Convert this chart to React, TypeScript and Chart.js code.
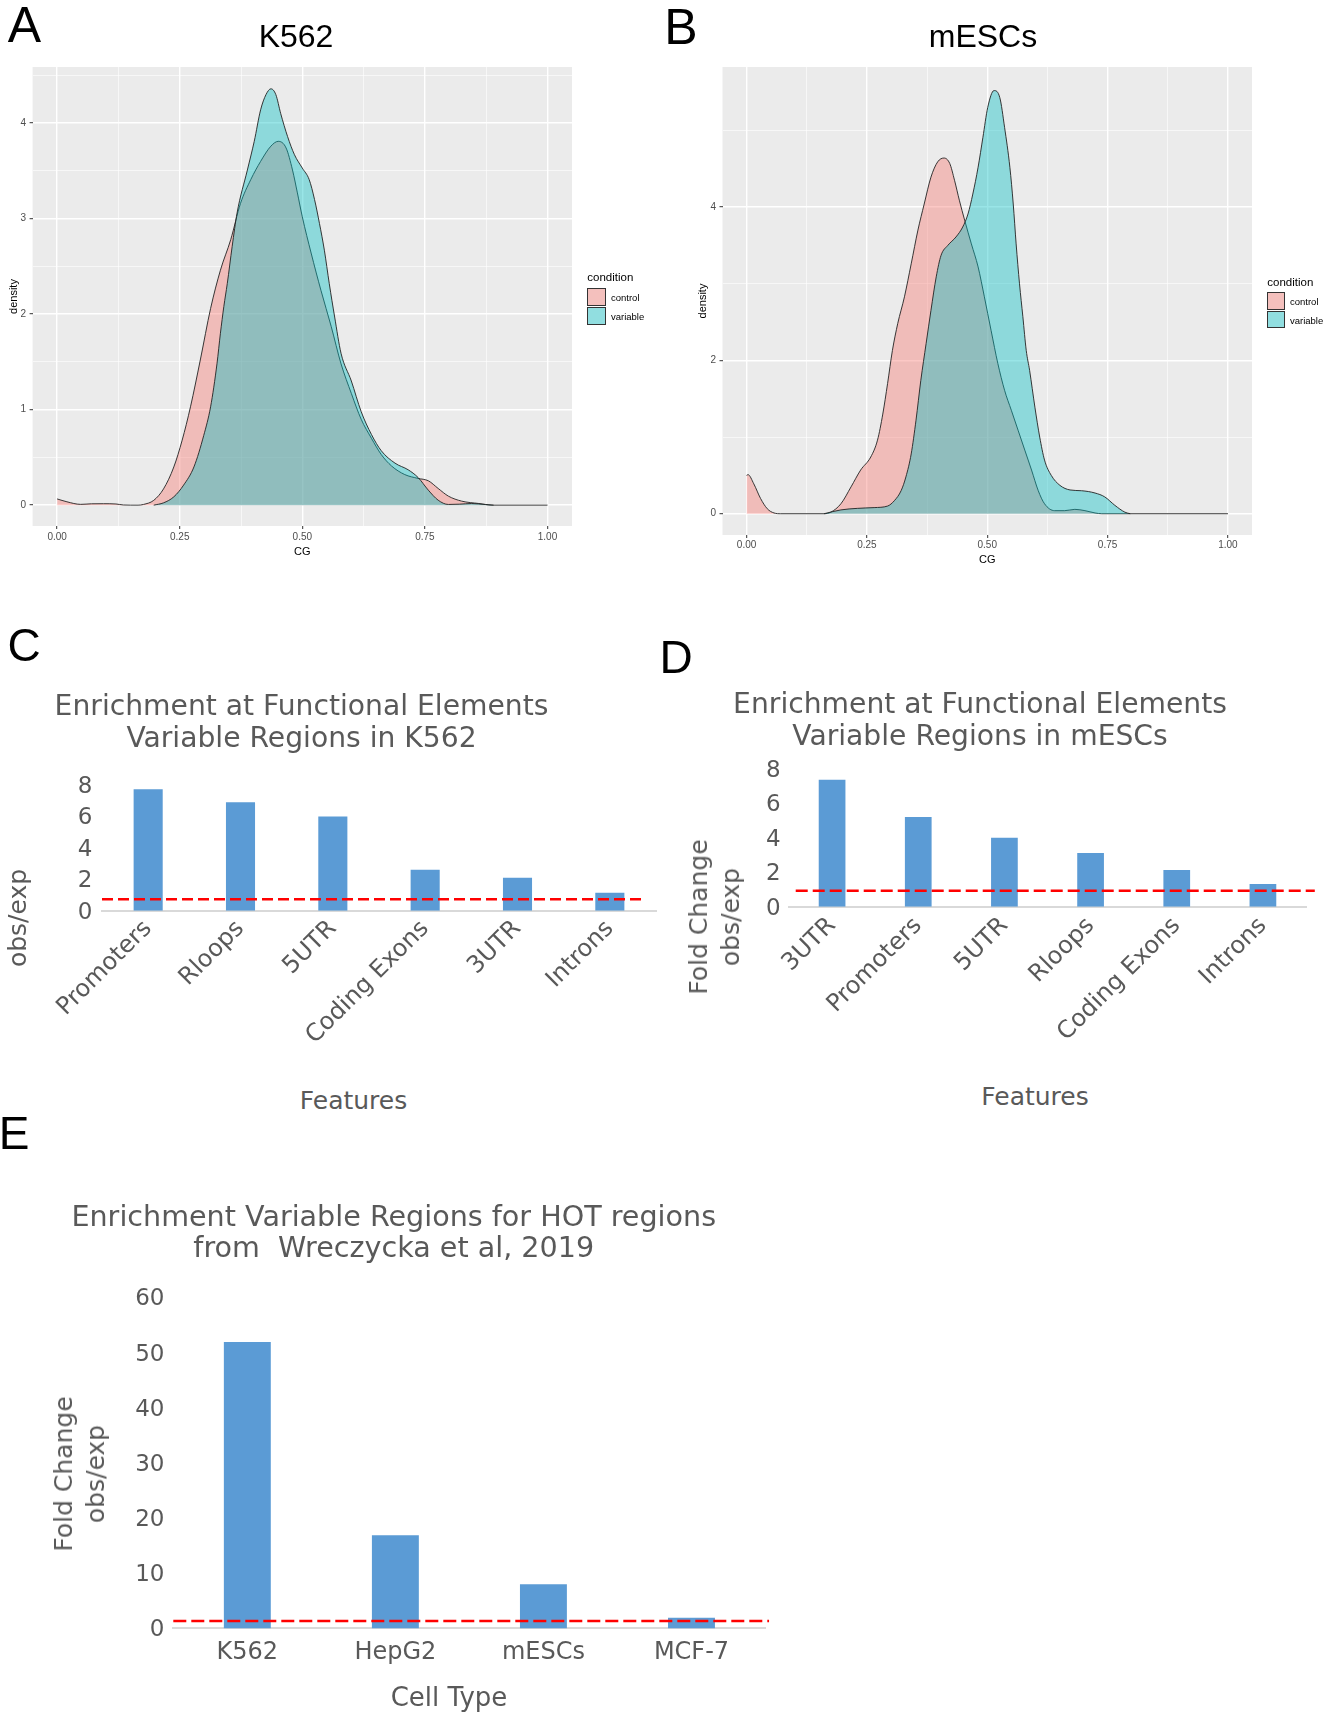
import React, { useEffect, useRef } from 'react';
import { Chart, registerables } from 'chart.js';
Chart.register(...registerables);

// ---------------- Panel A (K562) density data ----------------
const ctrlAx = [0, 0.02, 0.048, 0.07, 0.095, 0.12, 0.135, 0.165, 0.176, 0.197, 0.217, 0.238, 0.255, 0.272, 0.292, 0.313, 0.333, 0.354, 0.374, 0.395, 0.415, 0.436, 0.451, 0.467, 0.48, 0.49, 0.5, 0.518, 0.538, 0.559, 0.579, 0.6, 0.62, 0.641, 0.661, 0.682, 0.709, 0.736, 0.757, 0.777, 0.798, 0.825, 0.86, 0.887, 1.0];
const ctrlAy = [0.065, 0.035, 0.008, 0.014, 0.015, 0.012, 0.002, 0, 0.007, 0.05, 0.17, 0.4, 0.68, 1.03, 1.52, 2.06, 2.46, 2.78, 3.16, 3.41, 3.6, 3.76, 3.81, 3.74, 3.51, 3.27, 3.02, 2.64, 2.25, 1.87, 1.48, 1.17, 0.9, 0.7, 0.53, 0.41, 0.32, 0.28, 0.255, 0.175, 0.094, 0.042, 0.017, 0, 0];
const varAx = [0.197, 0.217, 0.238, 0.258, 0.279, 0.299, 0.313, 0.326, 0.333, 0.34, 0.347, 0.357, 0.367, 0.388, 0.402, 0.415, 0.426, 0.436, 0.446, 0.456, 0.47, 0.484, 0.5, 0.514, 0.525, 0.535, 0.545, 0.555, 0.566, 0.579, 0.6, 0.62, 0.641, 0.661, 0.689, 0.716, 0.736, 0.757, 0.777, 0.798, 0.82, 0.845, 0.873, 0.89];
const varAy = [0, 0.024, 0.087, 0.21, 0.4, 0.73, 1.03, 1.48, 1.8, 2.08, 2.32, 2.71, 3.06, 3.51, 3.81, 4.14, 4.3, 4.36, 4.3, 4.1, 3.86, 3.67, 3.53, 3.41, 3.2, 2.95, 2.67, 2.32, 1.97, 1.59, 1.3, 0.98, 0.74, 0.57, 0.44, 0.37, 0.29, 0.157, 0.052, 0.007, 0.01, 0.017, 0.007, 0];

// ---------------- Panel B (mESCs) density data ----------------
const ctrlBx = [0, 0.003, 0.015, 0.029, 0.043, 0.057, 0.071, 0.161, 0.175, 0.196, 0.217, 0.237, 0.258, 0.272, 0.283, 0.293, 0.303, 0.314, 0.328, 0.342, 0.356, 0.369, 0.383, 0.397, 0.41, 0.422, 0.432, 0.442, 0.453, 0.467, 0.481, 0.494, 0.508, 0.522, 0.536, 0.55, 0.564, 0.578, 0.592, 0.606, 0.619, 0.64, 0.661, 0.682, 0.703, 0.724, 0.738, 1.0];
const ctrlBy = [0.5, 0.51, 0.39, 0.2, 0.065, 0.01, 0, 0, 0.02, 0.13, 0.35, 0.57, 0.74, 0.96, 1.3, 1.7, 2.13, 2.48, 2.83, 3.26, 3.7, 4.04, 4.39, 4.59, 4.64, 4.57, 4.35, 4.09, 3.83, 3.52, 3.22, 2.83, 2.39, 1.96, 1.61, 1.35, 1.09, 0.83, 0.57, 0.3, 0.13, 0.04, 0.04, 0.057, 0.04, 0.01, 0, 0];
const varBx = [0.161, 0.196, 0.23, 0.265, 0.293, 0.307, 0.321, 0.331, 0.342, 0.352, 0.362, 0.373, 0.383, 0.394, 0.404, 0.418, 0.435, 0.449, 0.46, 0.47, 0.481, 0.491, 0.501, 0.514, 0.526, 0.536, 0.547, 0.554, 0.56, 0.567, 0.574, 0.581, 0.588, 0.599, 0.609, 0.619, 0.633, 0.651, 0.672, 0.696, 0.724, 0.744, 0.765, 0.786, 0.797];
const varBy = [0, 0.05, 0.07, 0.08, 0.1, 0.17, 0.3, 0.48, 0.78, 1.22, 1.74, 2.22, 2.65, 3.09, 3.37, 3.5, 3.61, 3.74, 3.91, 4.17, 4.52, 4.91, 5.3, 5.52, 5.43, 5.04, 4.52, 4.04, 3.52, 3.0, 2.57, 2.13, 1.87, 1.39, 1.0, 0.7, 0.5, 0.37, 0.31, 0.3, 0.27, 0.22, 0.11, 0.02, 0];

// density axes ticks
const densXMajor = [0, 0.25, 0.5, 0.75, 1];
const densXMinor = [0.125, 0.375, 0.625, 0.875];
const densXLabels = ['0.00', '0.25', '0.50', '0.75', '1.00'];
const densAYMajor = [0, 1, 2, 3, 4];
const densAYMinor = [0.5, 1.5, 2.5, 3.5, 4.5];
const densAYLabels = ['0', '1', '2', '3', '4'];
const densBYMajor = [0, 2, 4];
const densBYMinor = [1, 3, 5];
const densBYLabels = ['0', '2', '4'];
const conditions = ['control', 'variable'];

// ---------------- Panel C ----------------
const featuresC = ['Promoters', 'Rloops', '5UTR', 'Coding Exons', '3UTR', 'Introns'];
const valuesC = [7.73, 6.9, 6.0, 2.6, 2.1, 1.15];
const refC = 0.73;
// ---------------- Panel D ----------------
const featuresD = ['3UTR', 'Promoters', '5UTR', 'Rloops', 'Coding Exons', 'Introns'];
const valuesD = [7.37, 5.21, 4.0, 3.12, 2.13, 1.32];
const refD = 0.93;
// ---------------- Panel E ----------------
const cellTypesE = ['K562', 'HepG2', 'mESCs', 'MCF-7'];
const valuesE = [51.9, 16.9, 8.0, 1.94];
const refE = 1.35;

const FONT_R = "'Liberation Sans', Arial, sans-serif";
const FONT_D = "'DejaVu Sans', sans-serif";
const GRAY = '#595959';
const CTRL_FILL = 'rgba(248,118,109,0.4)';
const VAR_FILL = 'rgba(0,191,196,0.4)';

const panelBg = {
  id: 'panelBg',
  beforeDraw(chart: any, _a: any, opts: any) {
    if (!opts || !opts.color) return;
    const { ctx, chartArea: a } = chart;
    ctx.save();
    ctx.fillStyle = opts.color;
    ctx.fillRect(a.left, a.top, a.right - a.left, a.bottom - a.top);
    ctx.restore();
  },
};

// dashed reference line drawn through the y scale
const refLine = {
  id: 'refLine',
  afterDatasetsDraw(chart: any, _a: any, o: any) {
    if (!o || o.value === undefined) return;
    const { ctx, chartArea: a, scales } = chart;
    const py = scales.y.getPixelForValue(o.value);
    const w = a.right - a.left;
    ctx.save();
    ctx.strokeStyle = o.color;
    ctx.lineWidth = o.width;
    ctx.setLineDash(o.dash);
    ctx.beginPath();
    ctx.moveTo(a.left + o.start * w, py);
    ctx.lineTo(a.left + o.end * w, py);
    ctx.stroke();
    ctx.restore();
  },
};

function densityConfig(o: any) {
  const mjX = (c: any) => c.tick && densXMajor.includes(c.tick.value);
  const mjY = (c: any) => c.tick && o.yMajor.includes(c.tick.value);
  const ds = (label: string, xs: number[], ys: number[], fill: string, order: number) => ({
    label,
    data: xs.map((x, i) => ({ x, y: ys[i] })),
    backgroundColor: fill,
    borderColor: '#222222',
    borderWidth: 0.9,
    fill: 'origin',
    pointRadius: 0,
    cubicInterpolationMode: 'monotone',
    order,
  });
  return {
    type: 'line',
    data: {
      datasets: [
        ds(conditions[0], o.cx, o.cy, CTRL_FILL, 1),
        ds(conditions[1], o.vx, o.vy, VAR_FILL, 0),
      ],
    },
    options: {
      responsive: false,
      animation: false,
      events: [],
      layout: { padding: { top: o.padTop, right: o.padRight, bottom: 0, left: 0 } },
      plugins: { legend: { display: false }, tooltip: { enabled: false }, title: { display: false }, panelBg: { color: '#EBEBEB' } },
      scales: {
        x: {
          type: 'linear',
          min: -0.05,
          max: 1.05,
          afterBuildTicks: (s: any) => {
            s.ticks = [...densXMajor, ...densXMinor].sort((a, b) => a - b).map((v) => ({ value: v }));
          },
          afterFit: (s: any) => { s.height = o.xHeight; },
          grid: {
            color: '#FFFFFF',
            lineWidth: (c: any) => (mjX(c) ? 1.4 : 0.6),
            tickColor: (c: any) => (mjX(c) ? '#333333' : 'rgba(0,0,0,0)'),
            tickLength: 3,
            tickWidth: 1,
          },
          border: { display: false },
          ticks: {
            autoSkip: false,
            maxRotation: 0,
            padding: o.xTickPad,
            color: '#4D4D4D',
            font: { family: FONT_R, size: 10 },
            callback: (v: number) => { const i = densXMajor.indexOf(v); return i >= 0 ? densXLabels[i] : ''; },
          },
          title: { display: true, text: 'CG', color: '#000000', font: { family: FONT_R, size: 11 }, padding: { top: 0, bottom: o.xTitlePad } },
        },
        y: {
          type: 'linear',
          min: o.yMin,
          max: o.yMax,
          afterBuildTicks: (s: any) => {
            s.ticks = [...o.yMajor, ...o.yMinor].sort((a: number, b: number) => a - b).map((v: number) => ({ value: v }));
          },
          afterFit: (s: any) => { s.width = o.yWidth; },
          grid: {
            color: '#FFFFFF',
            lineWidth: (c: any) => (mjY(c) ? 1.4 : 0.6),
            tickColor: (c: any) => (mjY(c) ? '#333333' : 'rgba(0,0,0,0)'),
            tickLength: 3,
            tickWidth: 1,
          },
          border: { display: false },
          ticks: {
            autoSkip: false,
            padding: 3.5,
            color: '#4D4D4D',
            font: { family: FONT_R, size: 10 },
            callback: (v: number) => { const i = o.yMajor.indexOf(v); return i >= 0 ? o.yLabels[i] : ''; },
          },
          title: { display: true, text: 'density', color: '#000000', font: { family: FONT_R, size: 11 }, padding: { top: o.yTitlePad, bottom: 0 } },
        },
      },
    },
    plugins: [panelBg],
  };
}

function barConfig(o: any) {
  return {
    type: 'bar',
    data: {
      labels: o.labels,
      datasets: [
        {
          label: 'obs/exp',
          data: o.values,
          backgroundColor: '#5B9BD5',
          borderWidth: 0,
          barPercentage: o.barPct,
          categoryPercentage: 1,
          grouped: false,
        },
      ],
    },
    options: {
      responsive: false,
      animation: false,
      events: [],
      layout: { padding: { top: 0, left: 0, bottom: 0, right: o.padRight } },
      plugins: {
        legend: { display: false },
        tooltip: { enabled: false },
        title: {
          display: true,
          text: o.title,
          color: GRAY,
          font: { family: FONT_D, size: o.titleSize, weight: 'normal', lineHeight: o.titleLH },
          padding: o.titlePad,
        },
        refLine: { value: o.ref, start: o.refStart, end: o.refEnd, dash: o.dash, color: '#FF0000', width: 2.5 },
      },
      scales: {
        x: {
          type: 'category',
          grid: { display: false, drawTicks: false, tickLength: 0 },
          border: { display: true, color: '#D9D9D9', width: 2 },
          ticks: {
            autoSkip: false,
            minRotation: o.rot,
            maxRotation: o.rot,
            padding: o.xTickPad,
            color: GRAY,
            font: { family: FONT_D, size: 24 },
          },
          afterFit: (s: any) => { s.height = o.xHeight; },
        },
        y: {
          min: 0,
          max: o.yMax,
          grid: { display: false, drawTicks: false, tickLength: 0 },
          border: { display: false },
          ticks: { stepSize: o.yStep, padding: o.yTickPad, labelOffset: 2, color: GRAY, font: { family: FONT_D, size: 23 } },
          afterFit: (s: any) => { s.width = o.yWidth; },
        },
      },
    },
    plugins: [refLine],
  };
}

function ChartBox({ make, left, top, width, height }: any) {
  const ref = useRef<HTMLCanvasElement>(null);
  useEffect(() => {
    const chart = new Chart(ref.current as HTMLCanvasElement, make());
    return () => chart.destroy();
  }, []);
  return (
    <canvas ref={ref} width={width} height={height} style={{ position: 'absolute', left, top, width, height }} />
  );
}

function Txt({ x, y, text, size, family, color = '#000', rot = 0, lh }: any) {
  return (
    <div
      style={{
        position: 'absolute', left: x, top: y,
        transform: `translate(-50%, -50%) rotate(${rot}deg)`,
        fontFamily: family, fontSize: size, color, whiteSpace: 'pre',
        lineHeight: lh ? `${lh}px` : 'normal', textAlign: 'center',
      }}
    >{text}</div>
  );
}

function LeftTxt({ x, y, text, size, family, color = '#000' }: any) {
  return (
    <div style={{ position: 'absolute', left: x, top: y, transform: 'translateY(-50%)', fontFamily: family, fontSize: size, color, whiteSpace: 'pre', lineHeight: 'normal' }}>{text}</div>
  );
}

function Key({ x, y, w, h, color }: any) {
  return <div style={{ position: 'absolute', left: x, top: y, width: w, height: h, boxSizing: 'border-box', border: '1px solid #333', background: color }} />;
}

function Legend({ x, titleY, keyTops, w, h, labelX }: any) {
  const keyColors = ['rgb(244,192,189)', 'rgb(145,222,224)'];
  return (
    <>
      <LeftTxt x={x} y={titleY} text="condition" size={11.5} family={FONT_R} />
      {conditions.map((c, i) => (
        <React.Fragment key={c}>
          <Key x={x} y={keyTops[i]} w={w} h={h} color={keyColors[i]} />
          <LeftTxt x={labelX} y={keyTops[i] + h / 2} text={c} size={9.5} family={FONT_R} />
        </React.Fragment>
      ))}
    </>
  );
}

export default function App() {
  return (
    <div style={{ position: 'absolute', left: 0, top: 0, width: 1332, height: 1716, overflow: 'hidden', background: '#fff' }}>
      <ChartBox
        left={0} top={0} width={657} height={570}
        make={() => densityConfig({
          cx: ctrlAx, cy: ctrlAy, vx: varAx, vy: varAy,
          yMin: -0.2185, yMax: 4.5885, yMajor: densAYMajor, yMinor: densAYMinor, yLabels: densAYLabels,
          yWidth: 32.6, xHeight: 44, padTop: 67, padRight: 85, xTickPad: 2, xTitlePad: 11.8, yTitlePad: 7,
        })}
      />
      <ChartBox
        left={657} top={0} width={675} height={570}
        make={() => densityConfig({
          cx: ctrlBx, cy: ctrlBy, vx: varBx, vy: varBy,
          yMin: -0.2775, yMax: 5.8275, yMajor: densBYMajor, yMinor: densBYMinor, yLabels: densBYLabels,
          yWidth: 65.5, xHeight: 35, padTop: 67, padRight: 80, xTickPad: 1.5, xTitlePad: 3.4, yTitlePad: 39.4,
        })}
      />
      <ChartBox
        left={-53.5} top={640} width={716} height={440}
        make={() => barConfig({
          labels: featuresC, values: valuesC, ref: refC, refStart: 0, refEnd: 0.977, dash: [11, 5],
          barPct: 0.315, yMax: 8, yStep: 2, rot: 45, titleSize: 28.2,
          title: ['Enrichment at Functional Elements', 'Variable Regions in K562'], titleLH: '32px',
          titlePad: { top: 52, bottom: 29 }, yWidth: 155, xHeight: 169.3, padRight: 7, xTickPad: 4, yTickPad: 9.5,
        })}
      />
      <ChartBox
        left={654} top={640} width={678} height={440}
        make={() => barConfig({
          labels: featuresD, values: valuesD, ref: refD, refStart: 0.013, refEnd: 1.017, dash: [12, 5],
          barPct: 0.31, yMax: 8, yStep: 2, rot: 45, titleSize: 28.2,
          title: ['Enrichment at Functional Elements', 'Variable Regions in mESCs'], titleLH: '32px',
          titlePad: { top: 50, bottom: 15 }, yWidth: 135, xHeight: 173.3, padRight: 26, xTickPad: 5, yTickPad: 8.4,
        })}
      />
      <ChartBox
        left={21.5} top={1170} width={765.5} height={546}
        make={() => barConfig({
          labels: cellTypesE, values: valuesE, ref: refE, refStart: 0, refEnd: 1.006, dash: [13, 5],
          barPct: 0.317, yMax: 60, yStep: 10, rot: 0, titleSize: 28.6,
          title: ['Enrichment Variable Regions for HOT regions', 'from  Wreczycka et al, 2019'], titleLH: '31px',
          titlePad: { top: 33, bottom: 32.4 }, yWidth: 151.3, xHeight: 87.6, padRight: 21.5, xTickPad: 10, yTickPad: 8.8,
        })}
      />

      {/* panel titles (ggplot) */}
      <Txt x={296} y={35.5} text="K562" size={32} family={FONT_R} />
      <Txt x={983} y={35.5} text="mESCs" size={32} family={FONT_R} />

      {/* legends */}
      <Legend x={587.3} titleY={276.7} keyTops={[288.3, 307.3]} w={18.4} h={17.4} labelX={611} />
      <Legend x={1267.3} titleY={281.5} keyTops={[292.3, 310.7]} w={17.4} h={17.6} labelX={1290} />

      {/* axis titles of bar charts */}
      <Txt x={2} y={918} text={'Fold Change\nobs/exp'} size={25} family={FONT_D} color={GRAY} rot={-90} lh={31} />
      <Txt x={353.5} y={1100} text="Features" size={25} family={FONT_D} color={GRAY} />
      <Txt x={715} y={916.5} text={'Fold Change\nobs/exp'} size={25} family={FONT_D} color={GRAY} rot={-90} lh={32} />
      <Txt x={1035} y={1096} text="Features" size={25} family={FONT_D} color={GRAY} />
      <Txt x={80} y={1474} text={'Fold Change\nobs/exp'} size={25} family={FONT_D} color={GRAY} rot={-90} lh={32} />
      <Txt x={449} y={1697} text="Cell Type" size={26} family={FONT_D} color={GRAY} />

      {/* panel letters */}
      <Txt x={24.5} y={25} text="A" size={50} family={FONT_R} />
      <Txt x={681} y={26.5} text="B" size={50} family={FONT_R} />
      <Txt x={24} y={644.5} text="C" size={46} family={FONT_R} />
      <Txt x={676} y={656.5} text="D" size={46} family={FONT_R} />
      <Txt x={14} y={1132.5} text="E" size={46} family={FONT_R} />
    </div>
  );
}
